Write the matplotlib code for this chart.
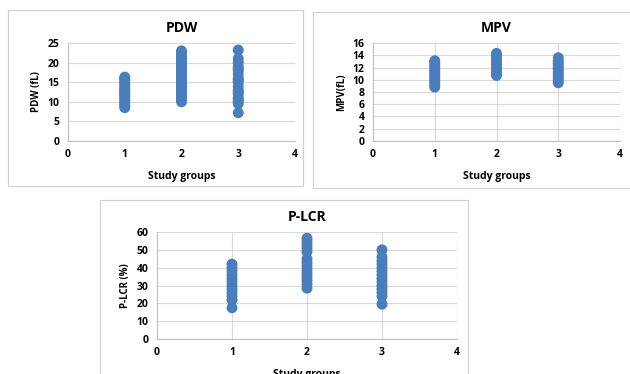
import matplotlib
matplotlib.use('Agg')
import matplotlib.pyplot as plt
from matplotlib.patches import Rectangle

plt.rcParams['font.family'] = ['Open Sans', 'DejaVu Sans']

# data
pdw_g1 = [8.5, 9, 9.5, 10, 10.5, 11, 11.5, 12, 12.5, 13, 13.5, 14, 14.5, 15, 15.5, 16, 16.3]
pdw_g2 = [10, 10.5, 11, 11.5, 12, 12.5, 13, 13.5, 14, 14.5, 15, 15.5, 16, 16.5, 17, 17.5,
          18, 18.5, 19, 19.5, 20, 20.5, 21, 21.5, 22, 22.5, 23]
pdw_g3 = [7.2, 9.5, 10, 10.5, 11, 12, 12.5, 13, 14, 15, 15.5, 16, 17, 18, 18.5, 19, 20, 21, 23.2]

mpv_g1 = [8.8, 9.2, 9.6, 10, 10.4, 10.8, 11.2, 11.6, 12, 12.4, 12.8, 13.1]
mpv_g2 = [10.7, 11, 11.4, 11.8, 12.2, 12.6, 13, 13.4, 13.8, 14.3]
mpv_g3 = [9.5, 9.9, 10.3, 10.7, 11.1, 11.5, 11.9, 12.3, 12.7, 13.1, 13.6]

plcr_g1 = [17.5, 22, 24, 26, 28, 30, 32, 34, 36, 38, 40, 42]
plcr_g2 = [28.5, 31, 33, 35, 37, 39, 41, 43, 45, 49, 51, 53, 55, 56.5]
plcr_g3 = [19.5, 24, 26, 28, 30, 32, 34, 36, 38, 40, 42, 44, 46, 50]

groups = [1, 2, 3]
x_ticks = [0, 1, 2, 3, 4]

W, H = 630, 374
fig = plt.figure(figsize=(W / 100, H / 100), dpi=100)
fig.patch.set_facecolor('white')

blue = '#4a7ebb'


def box(x0, y0, x1, y1):
    r = Rectangle((x0 / W, 1 - y1 / H), (x1 - x0) / W, (y1 - y0) / H,
                  transform=fig.transFigure, facecolor='none',
                  edgecolor='#d0d0d0', linewidth=0.8, zorder=-1)
    fig.patches.append(r)


def panel(l, r, t, b, data, title, ylabel, ymax, ystep, vgrid):
    ax = fig.add_axes([l / W, 1 - b / H, (r - l) / W, (b - t) / H])
    ax.set_facecolor('none')
    for g, vals in zip(groups, data):
        ax.scatter([g] * len(vals), vals, s=62, color=blue, edgecolors='none', zorder=3)
    ax.set_xlim(0, 4)
    ax.set_ylim(0, ymax)
    ax.set_xticks(x_ticks)
    ax.set_yticks(list(range(0, ymax + 1, ystep)))
    ax.grid(axis='y', color='#d9d9d9', linewidth=0.8)
    if vgrid:
        ax.grid(axis='x', color='#d9d9d9', linewidth=0.8)
    ax.set_axisbelow(True)
    for s in ['top', 'right']:
        ax.spines[s].set_visible(False)
    ax.spines['left'].set_color('#bfbfbf')
    ax.spines['bottom'].set_color('#bfbfbf')
    ax.tick_params(length=0, labelsize=7.5, pad=6)
    for lab in ax.get_xticklabels() + ax.get_yticklabels():
        lab.set_fontweight('bold')
    ax.set_title(title, fontsize=10, fontweight='bold', pad=8)
    ax.set_xlabel('Study groups', fontsize=7.5, fontweight='bold', labelpad=8)
    ax.set_ylabel(ylabel, fontsize=7, fontweight='bold', labelpad=4)
    return ax


box(8, 10, 303, 186)
box(313, 12, 636, 188)
box(100, 200, 468, 380)

panel(68, 295, 43, 141, [pdw_g1, pdw_g2, pdw_g3], 'PDW', 'PDW (fL)', 25, 5, False)
panel(373, 620, 43, 141, [mpv_g1, mpv_g2, mpv_g3], 'MPV', 'MPV(fL)', 16, 2, True)
panel(157, 457, 232, 339, [plcr_g1, plcr_g2, plcr_g3], 'P-LCR', 'P-LCR (%)', 60, 10, True)

fig.savefig('out.png', dpi=100)
